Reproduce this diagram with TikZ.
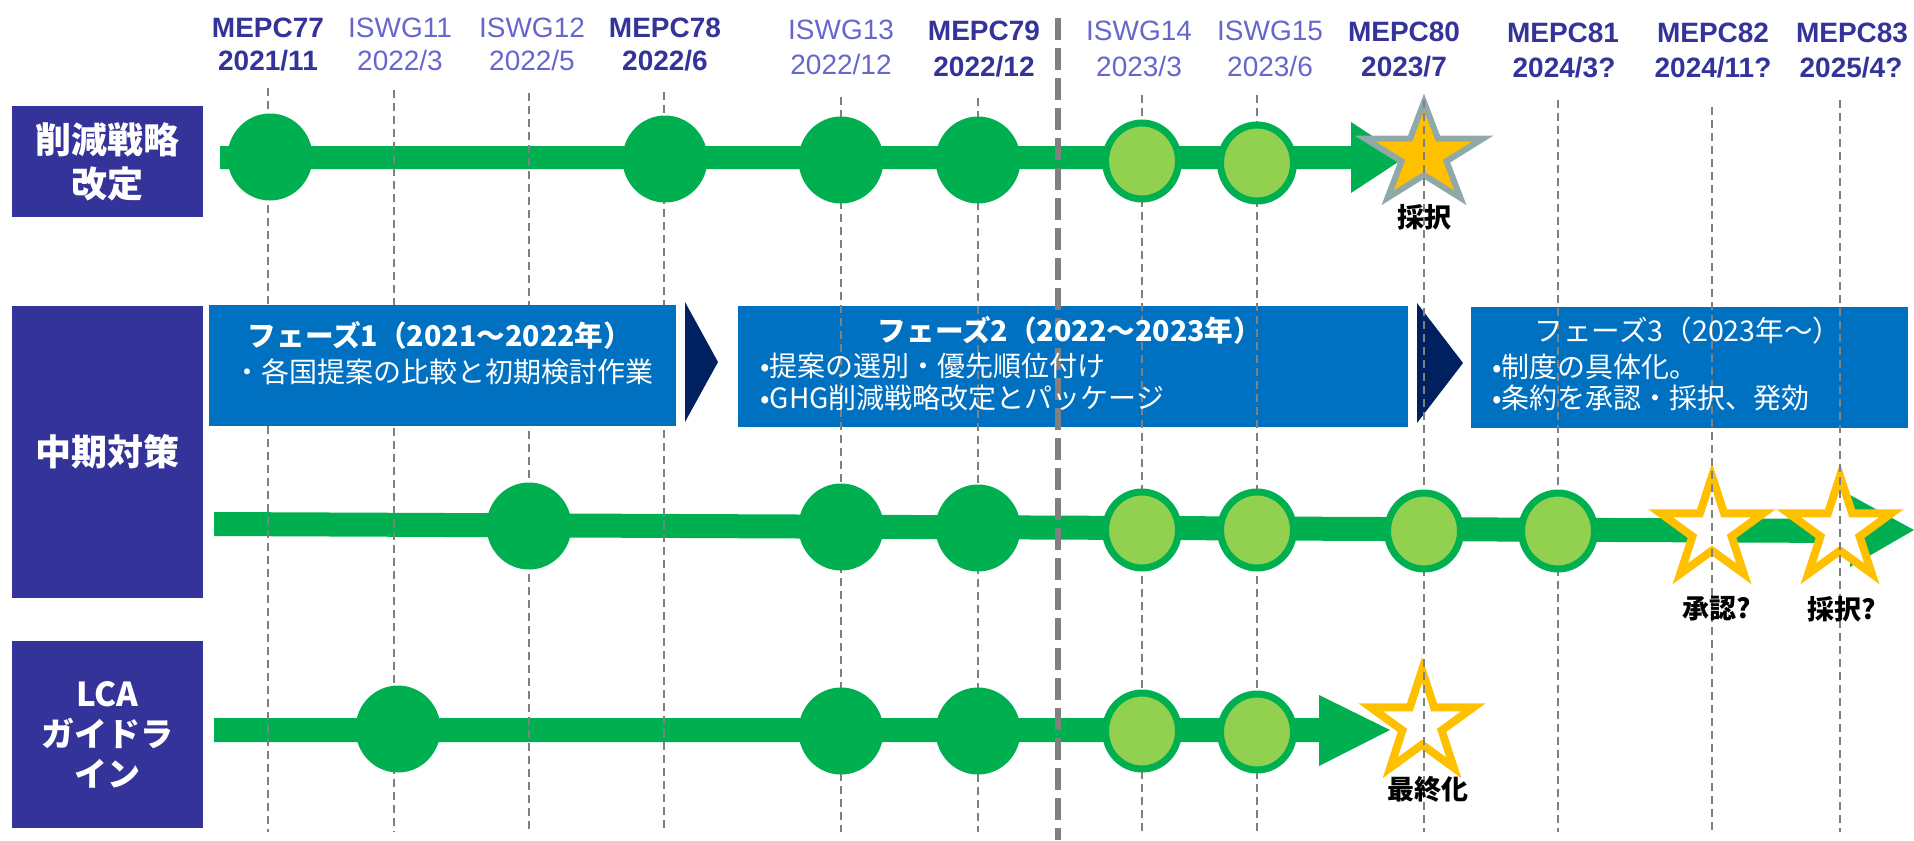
\documentclass[tikz,border=0pt]{standalone}
\usepackage{fontspec}
\setmainfont{Liberation Sans}
\newfontfamily\jp{Noto Sans CJK JP}
\usetikzlibrary{shapes.geometric}
\definecolor{navy}{HTML}{333399}
\definecolor{iswg}{HTML}{6666CC}
\definecolor{dgreen}{HTML}{00B050}
\definecolor{lgreen}{HTML}{92D050}
\definecolor{gold}{HTML}{FFC000}
\definecolor{sgrey}{HTML}{8FA9AA}
\definecolor{pblue}{HTML}{0070C0}
\definecolor{chev}{HTML}{002060}
\definecolor{gridgrey}{HTML}{808080}
\begin{document}
\begin{tikzpicture}[x=0.5pt,y=-0.5pt,
 hdrM/.style={font=\fontsize{14}{17}\selectfont\bfseries,text=navy,anchor=base,inner sep=0pt},
 hdrI/.style={font=\fontsize{14}{17}\selectfont,text=iswg,anchor=base,inner sep=0pt},
 gridline/.style={draw=gridgrey,line width=0.75pt,dash pattern=on 4pt off 2.5pt},
 divider/.style={draw=gridgrey,line width=3pt,dash pattern=on 11pt off 4pt},
 rowbox/.style={fill=navy,text=white,inner sep=0pt,align=center,minimum width=95.5pt},
 phasebox/.style={fill=pblue,inner sep=0pt,minimum height=60.5pt},
 ptitle/.style={text=white,inner sep=0pt,font=\jp\bfseries\fontsize{14.3}{17}\selectfont},
 ptitlen/.style={text=white,inner sep=0pt,font=\jp\fontsize{14.3}{17}\selectfont},
 ptext/.style={text=white,inner sep=0pt,font=\jp\fontsize{14}{16}\selectfont},
 dcirc/.style={ellipse,fill=dgreen,minimum width=42.5pt,minimum height=43.5pt,inner sep=0pt},
 lcirc/.style={ellipse,fill=lgreen,draw=dgreen,line width=3.5pt,minimum width=36.5pt,minimum height=38pt,inner sep=0pt},
 bar/.style={fill=dgreen},
 tri/.style={fill=chev},
 ostar/.style={star,star points=5,star point ratio=2.618,inner sep=0pt,fill=white,draw=gold,line width=4pt,minimum size=54pt},
 slabel/.style={inner sep=0pt,font=\jp\bfseries\fontsize{13.5}{16}\selectfont}
]
\useasboundingbox (0,0) rectangle (1914,840);

% row label boxes
\node[rowbox,minimum height=55.5pt,font=\jp\bfseries\fontsize{18}{22}\selectfont] (r1) at (107.5,161.5) {削減戦略\\改定};
\node[rowbox,minimum height=146pt,font=\jp\bfseries\fontsize{18}{22}\selectfont] (r2) at (107.5,452) {中期対策};
\node[rowbox,minimum height=93.5pt,font=\jp\bfseries\fontsize{16.5}{20}\selectfont] (r3) at (107.5,734.5) {LCA\\ガイドラ\\イン};

% phase boxes 2 and 3
\node[phasebox,minimum width=335pt] (p2) at (1073,366.5) {};
\node[phasebox,minimum width=218.5pt] (p3) at (1689.5,367.5) {};
\fill[tri] (685,302) -- (685,422) -- (718,362) -- cycle;
\fill[tri] (1417,303) -- (1417,423) -- (1463,363) -- cycle;

% bars
\fill[bar] (220,146) -- (1351,146) -- (1351,122) -- (1405,157.5) -- (1351,193) -- (1351,169) -- (220,169) -- cycle;
\fill[bar] (214,512) -- (1850,519) -- (1850,495) -- (1914,530) -- (1850,567) -- (1850,543) -- (214,536) -- cycle;
\fill[bar] (214,718) -- (1319,718) -- (1319,695) -- (1390,730) -- (1319,766) -- (1319,742) -- (214,742) -- cycle;

% stars
\coordinate (s80) at (1424,155);
\draw[fill=gold,draw=sgrey,line width=3pt,shift={(s80)},xscale=1.17]
  (0,-53) -- (11.9,-16.4) -- (50.4,-16.4) -- (19.2,6.25) -- (31.2,42.9) -- (0,20.2)
  -- (-31.2,42.9) -- (-19.2,6.25) -- (-50.4,-16.4) -- (-11.9,-16.4) -- cycle;
\node[ostar] (s82) at (1712,530) {};
\node[ostar] (s83) at (1840,530) {};
\node[ostar] (sl80) at (1422,724) {};

% grid lines
\foreach \gx/\gy in {268/88,394/90,529/93,664/92,841/97,978/98,1142/95,1257/95,1424/100,1558/100,1712/107,1840/100}
  \draw[gridline] (\gx,\gy) -- (\gx,832);
\draw[divider] (1058,18) -- (1058,840);

% phase box 1 (covers grid lines)
\node[phasebox,minimum width=233.5pt] (p1) at (442.5,365.5) {};

% circles row 1
\node[dcirc] (a77) at (270,157) {};
\node[dcirc] (a78) at (665,159) {};
\node[dcirc] (a13) at (841,160) {};
\node[dcirc] (a79) at (978,160) {};
\node[lcirc] (a14) at (1142,161) {};
\node[lcirc] (a15) at (1257,163) {};
% circles row 2
\node[dcirc] (b12) at (529,526) {};
\node[dcirc] (b13) at (841,527) {};
\node[dcirc] (b79) at (978,528) {};
\node[lcirc] (b14) at (1142,530) {};
\node[lcirc] (b15) at (1257,530) {};
\node[lcirc] (b80) at (1424,531) {};
\node[lcirc] (b81) at (1558,531) {};
% circles row 3
\node[dcirc] (c11) at (398,729) {};
\node[dcirc] (c13) at (841,731) {};
\node[dcirc] (c79) at (978,731) {};
\node[lcirc] (c14) at (1142,731) {};
\node[lcirc] (c15) at (1257,732) {};

% phase texts
\node[ptitle] (p1t) at (440,335) {フェーズ1（2021～2022年）};
\node[ptext] (p1a) at (443,372) {・各国提案の比較と初期検討作業};
\node[ptitle] (p2t) at (1070,330) {フェーズ2（2022～2023年）};
\node[ptext,anchor=west] (p2a) at (760,366) {•提案の選別・優先順位付け};
\node[ptext,anchor=west] (p2b) at (760,398) {•GHG削減戦略改定とパッケージ};
\node[ptitlen] (p3t) at (1688,331) {フェーズ3（2023年～）};
\node[ptext,anchor=west] (p3a) at (1492,367) {•制度の具体化。};
\node[ptext,anchor=west] (p3b) at (1492,398) {•条約を承認・採択、発効};

% star labels
\node[slabel] (t80) at (1424,217) {採択};
\node[slabel] (t82) at (1717,609) {承認?};
\node[slabel] (t83) at (1842,609) {採択?};
\node[slabel] (tl80) at (1428,789) {最終化};

% header labels
\node[hdrM] (h77) at (268,38) {MEPC77};
\node[hdrM] (d77) at (268,71) {2021/11};
\node[hdrI] (h11) at (400,38) {ISWG11};
\node[hdrI] (d11) at (400,71) {2022/3};
\node[hdrI] (h12) at (532,38) {ISWG12};
\node[hdrI] (d12) at (532,71) {2022/5};
\node[hdrM] (h78) at (665,38) {MEPC78};
\node[hdrM] (d78) at (665,71) {2022/6};
\node[hdrI] (h13) at (841,40) {ISWG13};
\node[hdrI] (d13) at (841,75) {2022/12};
\node[hdrM] (h79) at (984,41) {MEPC79};
\node[hdrM] (d79) at (984,76) {2022/12};
\node[hdrI] (h14) at (1139,41) {ISWG14};
\node[hdrI] (d14) at (1139,76) {2023/3};
\node[hdrI] (h15) at (1270,41) {ISWG15};
\node[hdrI] (d15) at (1270,76) {2023/6};
\node[hdrM] (h80) at (1404,42) {MEPC80};
\node[hdrM] (d80) at (1404,76) {2023/7};
\node[hdrM] (h81) at (1563,43) {MEPC81};
\node[hdrM] (d81) at (1564,77) {2024/3?};
\node[hdrM] (h82) at (1713,43) {MEPC82};
\node[hdrM] (d82) at (1713,77) {2024/11?};
\node[hdrM] (h83) at (1852,43) {MEPC83};
\node[hdrM] (d83) at (1851,77) {2025/4?};
\end{tikzpicture}
\end{document}
